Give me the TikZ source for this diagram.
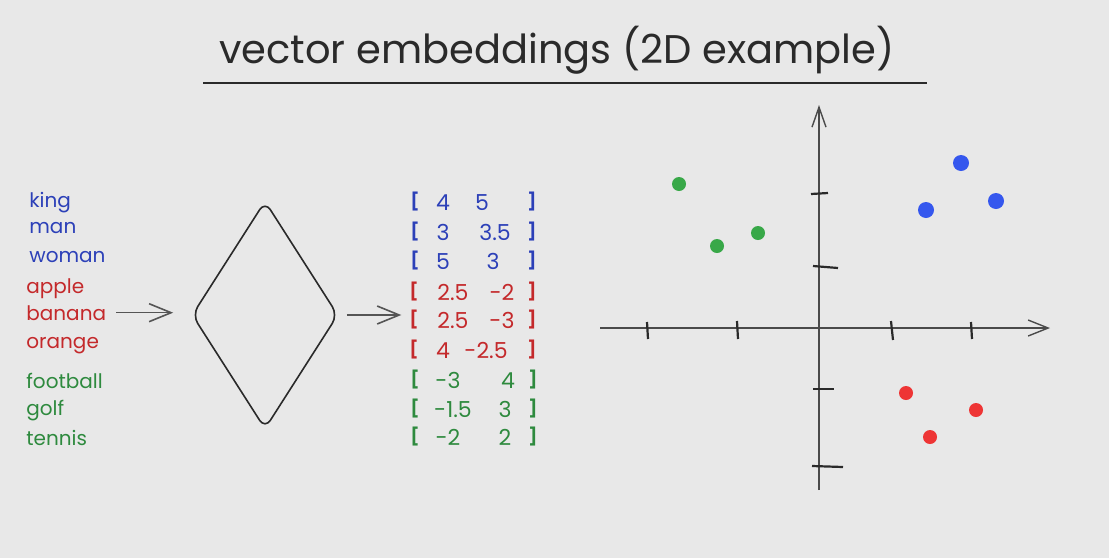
\documentclass[tikz,border=0pt]{standalone}
\usepackage{fontspec}
\setmainfont{Poppins}
\usetikzlibrary{arrows.meta,shapes.geometric}
\definecolor{bgcol}{HTML}{E8E8E8}
\definecolor{ink}{HTML}{2A2A2A}
\definecolor{wblue}{HTML}{2C40B8}
\definecolor{wred}{HTML}{C4292B}
\definecolor{wgreen}{HTML}{2E8A3E}
\definecolor{dblue}{HTML}{3557EE}
\definecolor{dred}{HTML}{EE3535}
\definecolor{dgreen}{HTML}{38A848}
\begin{document}
\begin{tikzpicture}[x=0.5pt,y=-0.5pt,
    word/.style={anchor=base west, inner sep=1pt, font=\fontsize{10}{12}\selectfont},
    num/.style={anchor=base, inner sep=1pt, font=\fontsize{11}{13}\selectfont},
    brk/.style={anchor=base, inner sep=1pt, yshift=1.2pt, font=\fontsize{8.5}{10}\selectfont\bfseries},
    dot/.style={circle, inner sep=0pt, minimum size=7pt},
    tick/.style={draw=ink, line width=1.1pt},
    axis/.style={draw=ink!85, line width=0.7pt, -{Straight Barb[length=10pt,width=8pt]}},
    flow/.style={draw=ink!80, line width=0.8pt, -{Straight Barb[length=11pt,width=9pt]}}]
    % Background
    \fill[bgcol] (0,0) rectangle (1109,558);

    % Title
    \node at (557,50) (title) [font=\fontsize{20}{24}\selectfont, text=ink] {vector embeddings (2D example)};
    \draw[ink, line width=1.2pt] (203,83) -- (927,83);

    % Words
    \node at (27,207) (king) [word, text=wblue] {king};
    \node at (27,233) (man) [word, text=wblue] {man};
    \node at (27,262) (woman) [word, text=wblue] {woman};
    \node at (24,293) (apple) [word, text=wred] {apple};
    \node at (24,320) (banana) [word, text=wred] {banana};
    \node at (24,348) (orange) [word, text=wred] {orange};
    \node at (24,388) (football) [word, text=wgreen] {football};
    \node at (24,415) (golf) [word, text=wgreen] {golf};
    \node at (24,445) (tennis) [word, text=wgreen] {tennis};

    % Model
    \node at (265,315) (M) [diamond, draw=ink, line width=0.8pt, rounded corners=5pt,
        minimum width=73pt, minimum height=114pt, inner sep=0pt] {};

    % Vectors
    \node at (415,210) (LB1) [brk, text=wblue] {[};
    \node at (443,210) (X1) [num, text=wblue] {4};
    \node at (482,210) (Y1) [num, text=wblue] {5};
    \node at (532,210) (RB1) [brk, text=wblue] {]};
    \node at (415,240) (LB2) [brk, text=wblue] {[};
    \node at (443,240) (X2) [num, text=wblue] {3};
    \node at (495,240) (Y2) [num, text=wblue] {3.5};
    \node at (532,240) (RB2) [brk, text=wblue] {]};
    \node at (415,269) (LB3) [brk, text=wblue] {[};
    \node at (443,269) (X3) [num, text=wblue] {5};
    \node at (493,269) (Y3) [num, text=wblue] {3};
    \node at (532,269) (RB3) [brk, text=wblue] {]};
    \node at (414,300) (LB4) [brk, text=wred] {[};
    \node at (453,300) (X4) [num, text=wred] {2.5};
    \node at (502,300) (Y4) [num, text=wred] {-2};
    \node at (532,300) (RB4) [brk, text=wred] {]};
    \node at (414,328) (LB5) [brk, text=wred] {[};
    \node at (453,328) (X5) [num, text=wred] {2.5};
    \node at (502,328) (Y5) [num, text=wred] {-3};
    \node at (532,328) (RB5) [brk, text=wred] {]};
    \node at (414,358) (LB6) [brk, text=wred] {[};
    \node at (443,358) (X6) [num, text=wred] {4};
    \node at (486,358) (Y6) [num, text=wred] {-2.5};
    \node at (532,358) (RB6) [brk, text=wred] {]};
    \node at (415,388) (LB7) [brk, text=wgreen] {[};
    \node at (448,388) (X7) [num, text=wgreen] {-3};
    \node at (508,388) (Y7) [num, text=wgreen] {4};
    \node at (533,388) (RB7) [brk, text=wgreen] {]};
    \node at (415,417) (LB8) [brk, text=wgreen] {[};
    \node at (453,417) (X8) [num, text=wgreen] {-1.5};
    \node at (505,417) (Y8) [num, text=wgreen] {3};
    \node at (533,417) (RB8) [brk, text=wgreen] {]};
    \node at (415,445) (LB9) [brk, text=wgreen] {[};
    \node at (448,445) (X9) [num, text=wgreen] {-2};
    \node at (505,445) (Y9) [num, text=wgreen] {2};
    \node at (533,445) (RB9) [brk, text=wgreen] {]};

    % Flow arrows
    \draw[flow, shorten <=4pt, shorten >=9pt] (banana.east) -- (banana.east -| M.west);
    \draw[flow, shorten <=4pt, shorten >=3pt] (M.east) -- (M.east -| LB5.west);

    % Axes
    \coordinate (O) at (819,328);
    \coordinate (XL) at (600,328);
    \coordinate (XR) at (1050,328);
    \coordinate (YB) at (819,490);
    \coordinate (YT) at (819,105);
    \draw[axis] (XL) -- (XR);
    \draw[axis, -{Straight Barb[length=10pt,width=7pt]}] (YB) -- (YT);

    % Ticks
    \draw[tick] (647,322) -- (648,339);
    \draw[tick] (737,321) -- (738,339);
    \draw[tick] (891,321) -- (893,340);
    \draw[tick] (971,322) -- (972,339);
    \draw[tick] (811,194) -- (828,193);
    \draw[tick] (813,266) -- (838,268);
    \draw[tick] (813,389) -- (834,389);
    \draw[tick] (812,466) -- (843,467);

    % Points
    \node at (961,163) (Pking) [dot, fill=dblue, minimum size=8pt] {};
    \node at (926,210) (Pman) [dot, fill=dblue, minimum size=8pt] {};
    \node at (996,201) (Pwoman) [dot, fill=dblue, minimum size=8pt] {};
    \node at (906,393) (Papple) [dot, fill=dred] {};
    \node at (930,437) (Pbanana) [dot, fill=dred] {};
    \node at (976,410) (Porange) [dot, fill=dred] {};
    \node at (679,184) (Pfootball) [dot, fill=dgreen] {};
    \node at (717,246) (Pgolf) [dot, fill=dgreen] {};
    \node at (758,233) (Ptennis) [dot, fill=dgreen] {};
\end{tikzpicture}
\end{document}
